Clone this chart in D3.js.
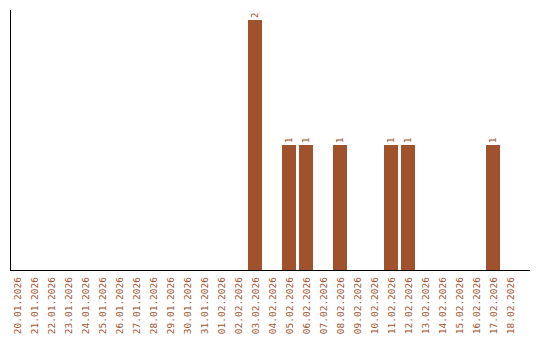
<!DOCTYPE html>
<html><head><meta charset="utf-8">
<script src="https://cdn.jsdelivr.net/npm/d3@7"></script>
<style>body{margin:0;background:#fff}svg{display:block}</style>
</head><body>
<svg id="c" width="540" height="340"></svg>
<script>
const categories = ["20.01.2026","21.01.2026","22.01.2026","23.01.2026","24.01.2026","25.01.2026","26.01.2026","27.01.2026","28.01.2026","29.01.2026","30.01.2026","31.01.2026","01.02.2026","02.02.2026","03.02.2026","04.02.2026","05.02.2026","06.02.2026","07.02.2026","08.02.2026","09.02.2026","10.02.2026","11.02.2026","12.02.2026","13.02.2026","14.02.2026","15.02.2026","16.02.2026","17.02.2026","18.02.2026"];
const values = [0,0,0,0,0,0,0,0,0,0,0,0,0,0,2,0,1,1,0,1,0,0,1,1,0,0,0,0,1,0];

(function(){
const svg = d3.select("#c");
const color = "#a0522d";
const mLeft = 10, mBottom = 270, mRight = 530, mTop = 10;
const x = d3.scaleBand().domain(categories).range([mLeft, mLeft + 510])
  .paddingInner(3/17).paddingOuter(1.5/17).align(0);
const y = d3.scaleLinear().domain([0, 2]).range([mBottom, 20]);

svg.selectAll("rect.bar").data(categories).join("rect")
  .attr("class","bar")
  .attr("x", d => x(d))
  .attr("width", x.bandwidth())
  .attr("y", (d,i) => y(values[i]))
  .attr("height", (d,i) => y(0) - y(values[i]))
  .attr("fill", color);

svg.selectAll("text.val").data(categories.filter((d,i)=>values[i]>0)).join("text")
  .attr("class","val")
  .attr("transform", d => `translate(${x(d)+x.bandwidth()/2+3},${y(values[categories.indexOf(d)])-2}) rotate(-90)`)
  .attr("font-family","DejaVu Sans Mono, monospace")
  .attr("font-size","9px")
  .attr("fill", color)
  .text(d => values[categories.indexOf(d)]);

svg.selectAll("text.cat").data(categories).join("text")
  .attr("class","cat")
  .attr("transform", d => `translate(${x(d)+x.bandwidth()/2+3.5},${mBottom+7}) rotate(-90)`)
  .attr("text-anchor","end")
  .attr("font-family","DejaVu Sans Mono, monospace")
  .attr("font-size","9.5px")
  .attr("fill", color)
  .text(d => d);

svg.append("line").attr("x1", mLeft+0.5).attr("x2", mLeft+0.5).attr("y1", mTop).attr("y2", mBottom+0.5)
  .attr("stroke","#000").attr("stroke-width",1);
svg.append("line").attr("x1", mLeft).attr("x2", mRight).attr("y1", mBottom+0.5).attr("y2", mBottom+0.5)
  .attr("stroke","#000").attr("stroke-width",1);
})();
</script>
</body></html>
